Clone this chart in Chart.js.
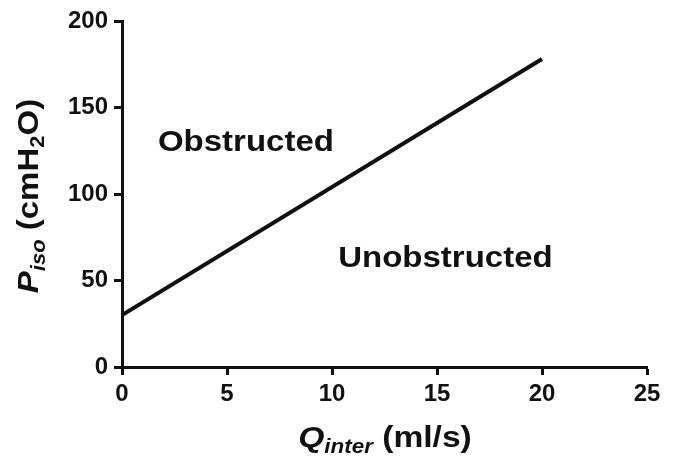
<!DOCTYPE html>
<html>
<head>
<meta charset="utf-8">
<script src="https://cdn.jsdelivr.net/npm/chart.js@4.4.1/dist/chart.umd.min.js"></script>
<style>
  html, body { margin: 0; padding: 0; background: #fff; }
  #wrap { width: 678px; height: 461px; }
</style>
</head>
<body>
<div id="wrap"><canvas id="chart" width="678" height="461"></canvas></div>
<script>
// data
const qInter = [0, 20];       // ml/s
const pIso = [30, 178];       // cmH2O
const xTicks = [0, 5, 10, 15, 20, 25];
const yTicks = [0, 50, 100, 150, 200];

// region labels, placed in data units
const regionNames = ["Obstructed", "Unobstructed"];
const regionQ = [5.9, 15.4];
const regionP = [131, 64];

const FONT = "'Liberation Sans', Arial, sans-serif";

// draw a run of text pieces (main / subscript) stretched a bit wide
function drawPieces(ctx, pieces, stretch) {
  let total = 0;
  pieces.forEach(p => {
    ctx.font = p.font;
    p.w = ctx.measureText(p.text).width;
    total += p.w;
  });
  ctx.save();
  ctx.scale(stretch, 1);
  let x = -total / 2;
  pieces.forEach(p => {
    ctx.font = p.font;
    ctx.fillText(p.text, x, p.dy || 0);
    x += p.w;
  });
  ctx.restore();
}

const textPlugin = {
  id: "textPlugin",
  afterDraw(chart) {
    const ctx = chart.ctx;
    const xs = chart.scales.x, ys = chart.scales.y;
    ctx.save();
    ctx.fillStyle = "#111";
    ctx.textBaseline = "alphabetic";
    ctx.textAlign = "left";

    // region names
    regionNames.forEach((name, i) => {
      ctx.save();
      ctx.translate(xs.getPixelForValue(regionQ[i]), ys.getPixelForValue(regionP[i]) + 11);
      drawPieces(ctx, [{ text: name, font: "bold 30px " + FONT }], 1.1);
      ctx.restore();
    });

    // x axis title
    ctx.save();
    ctx.translate(385, 447);
    drawPieces(ctx, [
      { text: "Q", font: "italic bold 30px " + FONT },
      { text: "inter", font: "italic bold 20px " + FONT, dy: 6 },
      { text: " (ml/s)", font: "bold 30px " + FONT }
    ], 1.12);
    ctx.restore();

    // y axis title
    ctx.save();
    ctx.translate(38, 196);
    ctx.rotate(-Math.PI / 2);
    drawPieces(ctx, [
      { text: "P", font: "italic bold 30px " + FONT },
      { text: "iso", font: "italic bold 20px " + FONT, dy: 7 },
      { text: " (cmH", font: "bold 30px " + FONT },
      { text: "2", font: "bold 20px " + FONT, dy: 6 },
      { text: "O)", font: "bold 30px " + FONT }
    ], 1.1);
    ctx.restore();

    ctx.restore();
  }
};

const ctx = document.getElementById("chart").getContext("2d");
const chart = new Chart(ctx, {
  type: "scatter",
  data: {
    datasets: [{
      data: qInter.map((q, i) => ({ x: q, y: pIso[i] })),
      showLine: true,
      borderColor: "#111",
      borderWidth: 4,
      pointRadius: 0,
      fill: false
    }]
  },
  options: {
    responsive: false,
    animation: false,
    layout: { padding: { top: 21, right: 31, bottom: 0, left: 0 } },
    plugins: {
      legend: { display: false },
      tooltip: { enabled: false }
    },
    scales: {
      x: {
        type: "linear",
        min: 0,
        max: 25,
        afterBuildTicks: s => { s.ticks = xTicks.map(v => ({ value: v })); },
        afterFit: s => { s.height = 94; },
        border: { color: "#111", width: 3 },
        grid: { drawOnChartArea: false, tickLength: 8, tickWidth: 3, tickColor: "#111" },
        ticks: { color: "#111", padding: 5, font: { family: FONT, size: 24, weight: "bold" } }
      },
      y: {
        type: "linear",
        min: 0,
        max: 200,
        afterBuildTicks: s => { s.ticks = yTicks.map(v => ({ value: v })); },
        afterFit: s => { s.width = 122; },
        border: { color: "#111", width: 3 },
        grid: { drawOnChartArea: false, tickLength: 8, tickWidth: 3, tickColor: "#111" },
        ticks: { color: "#111", padding: 6, font: { family: FONT, size: 24, weight: "bold" } }
      }
    }
  },
  plugins: [textPlugin]
});
</script>
</body>
</html>
